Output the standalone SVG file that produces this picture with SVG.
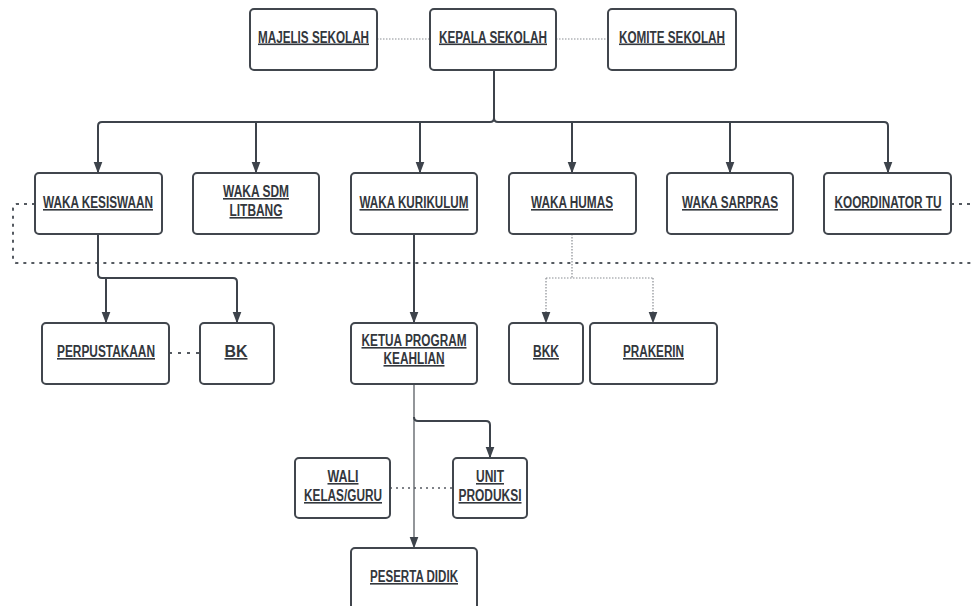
<svg xmlns="http://www.w3.org/2000/svg" width="971" height="606" viewBox="0 0 971 606">
<style>
.box{fill:#fff;stroke:#41464d;stroke-width:2}
.t{font-family:"Liberation Sans",Arial,sans-serif;font-size:16px;font-weight:bold;fill:#33373d;text-anchor:middle;text-decoration:underline}
.ln{fill:none;stroke:#3d434b;stroke-width:2}
.thin{fill:none;stroke:#4a4f56;stroke-width:1.2}
.dot{fill:none;stroke:#555a61;stroke-width:2;stroke-dasharray:3 5}
.fine{fill:none;stroke:#8a8e93;stroke-width:1.2;stroke-dasharray:1.5 1.5}
</style>
<defs>
<marker id="ah" markerUnits="userSpaceOnUse" markerWidth="12" markerHeight="10" viewBox="0 0 12 10" refX="11.5" refY="5" orient="auto">
<path d="M0 0.5 L12 5 L0 9.5 z" fill="#3d434b"/>
</marker>
</defs>
<rect width="971" height="606" fill="#fff"/>
<g id="connectors">
<path class="fine" d="M377 39 H430"/>
<path class="fine" d="M556 39 H608"/>
<path class="ln" d="M494 70 V118 Q494 122 490 122 H102 Q98 122 98 126 V173" marker-end="url(#ah)"/>
<path class="ln" d="M494 118 Q494 122 498 122 H884 Q888 122 888 126 V173" marker-end="url(#ah)"/>
<path class="ln" d="M256 122 V173" marker-end="url(#ah)"/>
<path class="ln" d="M420 122 V173" marker-end="url(#ah)"/>
<path class="ln" d="M572 122 V173" marker-end="url(#ah)"/>
<path class="ln" d="M730 122 V173" marker-end="url(#ah)"/>
<path class="dot" d="M35 204 H17 Q13 204 13 208 V259 Q13 263 17 263 H971"/>
<path class="dot" d="M951 204 H971"/>
<path class="ln" d="M98 234 V274 Q98 278 102 278 H233 Q237 278 237 282 V323" marker-end="url(#ah)"/>
<path class="ln" d="M106 278 V323" marker-end="url(#ah)"/>
<path class="ln" d="M414 234 V323" marker-end="url(#ah)"/>
<path class="fine" d="M572 234 V278"/>
<path class="fine" d="M546 278 H653"/>
<path class="fine" d="M546 278 V323" marker-end="url(#ah)"/>
<path class="fine" d="M653 278 V323" marker-end="url(#ah)"/>
<path class="dot" d="M169 353 H200" style="stroke-dasharray:3 6"/>
<path class="thin" d="M414 384 V548" marker-end="url(#ah)"/>
<path class="ln" d="M414 417 Q414 421 418 421 H486 Q490 421 490 425 V458" marker-end="url(#ah)"/>
<path class="dot" d="M390 488 H453" style="stroke-width:1.5;stroke-dasharray:2 4"/>
</g>
<g id="majelis"><rect class="box" x="250" y="9" width="127" height="61" rx="4"/><text class="t" x="313.5" y="42.5" textLength="111" lengthAdjust="spacingAndGlyphs">MAJELIS SEKOLAH</text></g>
<g id="kepala"><rect class="box" x="430" y="9" width="126" height="61" rx="4"/><text class="t" x="493" y="42.5" textLength="108" lengthAdjust="spacingAndGlyphs">KEPALA SEKOLAH</text></g>
<g id="komite"><rect class="box" x="608" y="9" width="128" height="61" rx="4"/><text class="t" x="672" y="42.5" textLength="106" lengthAdjust="spacingAndGlyphs">KOMITE SEKOLAH</text></g>
<g id="kesiswaan"><rect class="box" x="35" y="173" width="127" height="61" rx="4"/><text class="t" x="98" y="208" textLength="110" lengthAdjust="spacingAndGlyphs">WAKA KESISWAAN</text></g>
<g id="sdm"><rect class="box" x="193" y="173" width="126" height="61" rx="4"/><text class="t" x="256" y="197" textLength="66" lengthAdjust="spacingAndGlyphs">WAKA SDM</text><text class="t" x="256" y="216" textLength="53" lengthAdjust="spacingAndGlyphs">LITBANG</text></g>
<g id="kurikulum"><rect class="box" x="351" y="173" width="126" height="61" rx="4"/><text class="t" x="414" y="208" textLength="109" lengthAdjust="spacingAndGlyphs">WAKA KURIKULUM</text></g>
<g id="humas"><rect class="box" x="509" y="173" width="127" height="61" rx="4"/><text class="t" x="572" y="208" textLength="82" lengthAdjust="spacingAndGlyphs">WAKA HUMAS</text></g>
<g id="sarpras"><rect class="box" x="667" y="173" width="126" height="61" rx="4"/><text class="t" x="730" y="208" textLength="96" lengthAdjust="spacingAndGlyphs">WAKA SARPRAS</text></g>
<g id="tu"><rect class="box" x="824" y="173" width="127" height="61" rx="4"/><text class="t" x="888" y="208" textLength="107" lengthAdjust="spacingAndGlyphs">KOORDINATOR TU</text></g>
<g id="perpustakaan"><rect class="box" x="42" y="323" width="127" height="61" rx="4"/><text class="t" x="106" y="357" textLength="98" lengthAdjust="spacingAndGlyphs">PERPUSTAKAAN</text></g>
<g id="bk"><rect class="box" x="200" y="323" width="74" height="61" rx="4"/><text class="t" x="236" y="357" textLength="23" lengthAdjust="spacingAndGlyphs">BK</text></g>
<g id="ketua"><rect class="box" x="351" y="323" width="126" height="61" rx="4"/><text class="t" x="414" y="346" textLength="105" lengthAdjust="spacingAndGlyphs">KETUA PROGRAM</text><text class="t" x="414" y="364" textLength="61" lengthAdjust="spacingAndGlyphs">KEAHLIAN</text></g>
<g id="bkk"><rect class="box" x="509" y="323" width="74" height="61" rx="4"/><text class="t" x="546" y="357" textLength="26" lengthAdjust="spacingAndGlyphs">BKK</text></g>
<g id="prakerin"><rect class="box" x="590" y="323" width="127" height="61" rx="4"/><text class="t" x="653.5" y="357" textLength="61" lengthAdjust="spacingAndGlyphs">PRAKERIN</text></g>
<g id="wali"><rect class="box" x="295" y="458" width="95" height="60" rx="4"/><text class="t" x="343" y="482" textLength="31" lengthAdjust="spacingAndGlyphs">WALI</text><text class="t" x="343" y="501" textLength="78" lengthAdjust="spacingAndGlyphs">KELAS/GURU</text></g>
<g id="unit"><rect class="box" x="453" y="458" width="74" height="60" rx="4"/><text class="t" x="490" y="482" textLength="28" lengthAdjust="spacingAndGlyphs">UNIT</text><text class="t" x="490" y="501" textLength="63" lengthAdjust="spacingAndGlyphs">PRODUKSI</text></g>
<g id="peserta"><rect class="box" x="351" y="548" width="126" height="70" rx="4"/><text class="t" x="414" y="582" textLength="88" lengthAdjust="spacingAndGlyphs">PESERTA DIDIK</text></g>
</svg>
